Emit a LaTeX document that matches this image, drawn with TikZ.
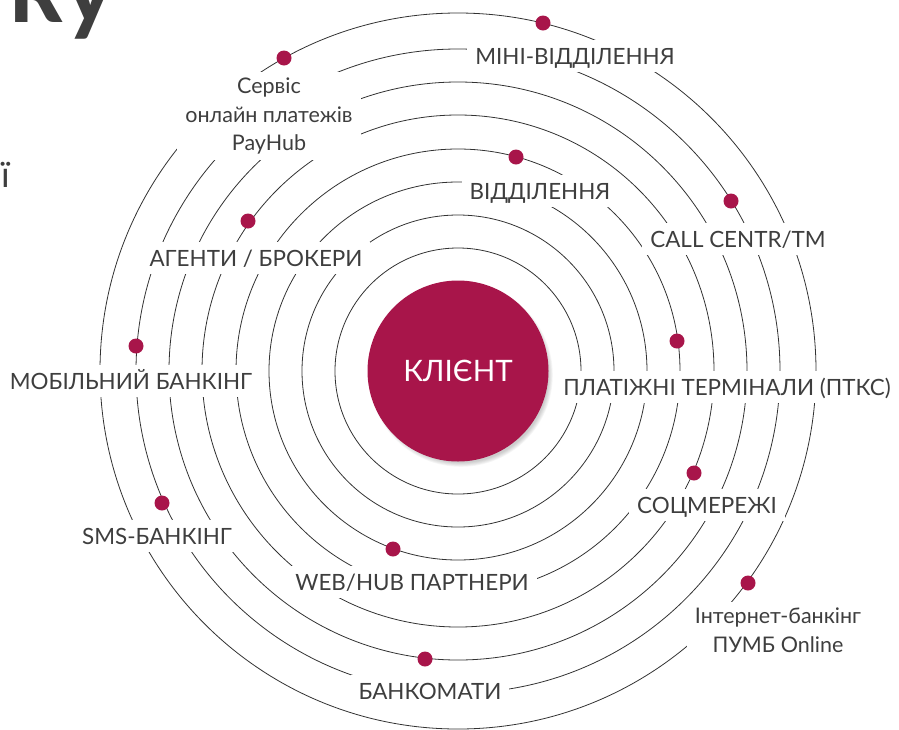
\documentclass[tikz,border=0pt]{standalone}
\usepackage{fontspec}
\setmainfont{Lato}
\definecolor{crim}{RGB}{168,21,74}
\definecolor{ink}{RGB}{62,62,62}
\begin{document}
\begin{tikzpicture}[x=1pt,y=-1pt,
  ring/.style={draw=ink!80!black, line width=0.8pt},
  lbl/.style={fill=white, text=ink, font=\fontsize{22.4}{22.4}\selectfont, inner xsep=8pt, inner ysep=8pt, text height=16.5pt, text depth=0pt},
  sml/.style={fill=white, text=ink, font=\fontsize{21.5}{28.5}\selectfont, align=center, inner xsep=8pt, inner ysep=6pt},
  dot/.style={circle, fill=crim, minimum size=15pt, inner sep=0pt},
]
\useasboundingbox (0,0) rectangle (899,729);
\clip (0,0) rectangle (899,729);
\coordinate (c) at (458,371);
\foreach \r in {123,156,189,222,256,289,322,358} \draw[ring] (c) circle[radius=\r pt];
% shadow of the centre
\foreach \k in {1,...,6} \fill[black, opacity=0.035] (461,375) circle[radius={87pt+\k*0.8pt}];
\node[circle, fill=crim, minimum size=181pt, inner sep=0pt, text=white, font=\fontsize{29.5}{29.5}\selectfont] (client) at (c) {КЛІЄНТ};
% labels
\node[lbl] (mini) at (575,56) {МІНІ-ВІДДІЛЕННЯ};
\node[lbl] (vidd) at (540,191) {ВІДДІЛЕННЯ};
\node[lbl] (call) at (738,239) {CALL CENTR/TM};
\node[lbl] (agent) at (256,258) {АГЕНТИ / БРОКЕРИ};
\node[lbl] (mob) at (131,381) {МОБІЛЬНИЙ БАНКІНГ};
\node[lbl] (term) at (727,387) {ПЛАТІЖНІ ТЕРМІНАЛИ (ПТКС)};
\node[lbl] (soc) at (707,505) {СОЦМЕРЕЖІ};
\node[lbl] (sms) at (157,536) {SMS-БАНКІНГ};
\node[lbl] (web) at (412,582) {WEB/HUB ПАРТНЕРИ};
\node[lbl] (atm) at (430,691) {БАНКОМАТИ};
\node[sml] (payhub) at (269,116) {Сервіс\\онлайн платежів\\PayHub};
\node[sml] (inet) at (778,630) {Інтернет-банкінг\\ПУМБ Online};
% dots
\node[dot] (d1) at (543,23) {};
\node[dot] (d2) at (284,58) {};
\node[dot] (d3) at (516,157) {};
\node[dot] (d4) at (731,201) {};
\node[dot] (d5) at (248,221) {};
\node[dot] (d6) at (136,346) {};
\node[dot] (d7) at (677,341) {};
\node[dot] (d8) at (694,473) {};
\node[dot] (d9) at (162,503) {};
\node[dot] (d10) at (393,549) {};
\node[dot] (d11) at (748,583) {};
\node[dot] (d12) at (425,659) {};
% fragments at the top left
\node[anchor=base west, inner sep=0pt, text=ink, font=\fontsize{100}{100}\selectfont\bfseries] (ku) at (9,22) {ку};
\node[anchor=base west, inner sep=0pt, text=ink, font=\fontsize{36}{36}\selectfont] (yi) at (1,187) {ї};
\end{tikzpicture}
\end{document}
